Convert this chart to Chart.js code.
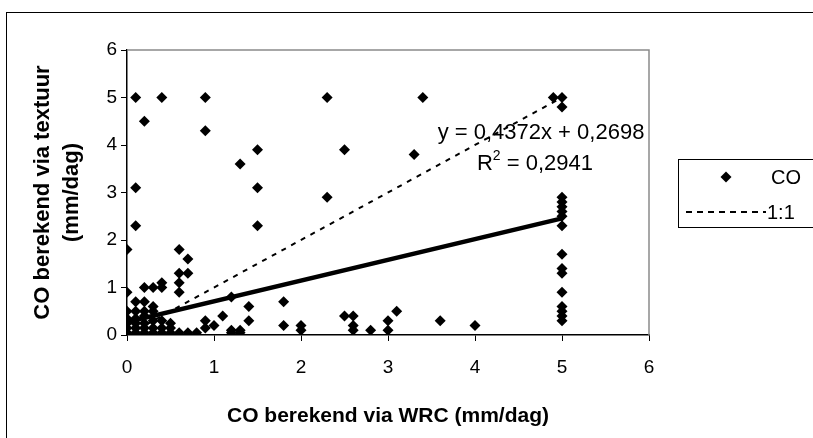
<!DOCTYPE html>
<html>
<head>
<meta charset="utf-8">
<script src="https://cdn.jsdelivr.net/npm/chart.js@4.4.1/dist/chart.umd.min.js"></script>
<style>
    html, body { margin: 0; padding: 0; background: #fff; overflow: hidden; }
    #kader {
        position: absolute; left: 6px; top: 12px; width: 900px; height: 600px;
        border-left: 1px solid #000; border-top: 1px solid #000;
    }
    #grafico { position: absolute; left: 0; top: 0; }
</style>
</head>
<body>
<div id="kader"></div>
<canvas id="grafico" width="813" height="438"></canvas>
<script>
// CO berekend via WRC (x) tegen CO berekend via textuur (y), mm/dag
const coX = [
    0, 0, 0, 0, 0, 0, 0,
    0.1, 0.1, 0.1, 0.1, 0.1, 0.1, 0.1, 0.1, 0.1,
    0.2, 0.2, 0.2, 0.2, 0.2, 0.2, 0.2, 0.2,
    0.3, 0.3, 0.3, 0.3, 0.3, 0.3,
    0.4, 0.4, 0.4, 0.4, 0.4, 0.4,
    0.5, 0.5, 0.5,
    0.6, 0.6, 0.6, 0.6, 0.6,
    0.7, 0.7, 0.7,
    0.8,
    0.9, 0.9, 0.9, 0.9,
    1.0, 1.1,
    1.2, 1.2, 1.2,
    1.3, 1.3, 1.3,
    1.4, 1.4,
    1.5, 1.5, 1.5,
    1.8, 1.8,
    2.0, 2.0,
    2.3, 2.3,
    2.5, 2.5,
    2.6, 2.6, 2.6,
    2.8,
    3.0, 3.0,
    3.1, 3.3, 3.4, 3.6, 4.0, 4.9,
    5, 5, 5, 5, 5, 5, 5, 5, 5, 5, 5, 5, 5, 5, 5, 5
];
const coY = [
    0.05, 0.15, 0.25, 0.35, 0.5, 0.9, 1.8,
    0.05, 0.15, 0.25, 0.35, 0.5, 0.7, 2.3, 3.1, 5.0,
    0.05, 0.15, 0.25, 0.4, 0.5, 0.7, 1.0, 4.5,
    0.05, 0.15, 0.3, 0.5, 0.6, 1.0,
    0.05, 0.15, 0.3, 1.0, 1.1, 5.0,
    0.05, 0.15, 0.25,
    0.05, 0.9, 1.1, 1.3, 1.8,
    0.05, 1.3, 1.6,
    0.05,
    0.15, 0.3, 4.3, 5.0,
    0.2, 0.4,
    0.05, 0.1, 0.8,
    0.05, 0.1, 3.6,
    0.3, 0.6,
    2.3, 3.1, 3.9,
    0.2, 0.7,
    0.1, 0.2,
    2.9, 5.0,
    0.4, 3.9,
    0.1, 0.2, 0.4,
    0.1,
    0.1, 0.3,
    0.5, 3.8, 5.0, 0.3, 0.2, 5.0,
    0.3, 0.4, 0.5, 0.6, 0.9, 1.3, 1.4, 1.7, 2.3, 2.5, 2.6, 2.7, 2.8, 2.9, 4.8, 5.0
];

// lineaire trendlijn y = 0,4372x + 0,2698
const trendX = [0, 5];
const trendY = [0.2698, 2.4558];

// 1:1 lijn
const lijnX = [0, 5];
const lijnY = [0, 5];

const tickWaarden = [0, 1, 2, 3, 4, 5, 6];
const legendaNamen = ['CO', '1:1'];

const FONT = '"Liberation Sans", Arial, sans-serif';

function punten(xs, ys) {
    return xs.map((x, i) => ({ x: x, y: ys[i] }));
}

/* ===== plot-kader (grijze rand boven en rechts) ===== */
const kaderPlugin = {
    id: 'kader',
    beforeDatasetsDraw(chart) {
        const { ctx, chartArea: a } = chart;
        ctx.save();
        ctx.strokeStyle = '#8a8a8a';
        ctx.lineWidth = 1.5;
        ctx.beginPath();
        ctx.moveTo(a.left, a.top);
        ctx.lineTo(a.right, a.top);
        ctx.lineTo(a.right, a.bottom);
        ctx.stroke();
        ctx.restore();
    }
};

/* ===== vergelijking van de trendlijn ===== */
const vergelijkingPlugin = {
    id: 'vergelijking',
    afterDraw(chart) {
        const ctx = chart.ctx;
        ctx.save();
        ctx.fillStyle = '#000';
        ctx.textBaseline = 'middle';
        ctx.font = '22px ' + FONT;
        ctx.textAlign = 'center';
        ctx.fillText('y = 0,4372x + 0,2698', 541, 133);

        // R² regel met superscript
        const cx = 535;
        const deel1 = 'R', deel3 = ' = 0,2941';
        const w1 = ctx.measureText(deel1).width;
        const w3 = ctx.measureText(deel3).width;
        ctx.font = '14px ' + FONT;
        const w2 = ctx.measureText('2').width;
        const start = cx - (w1 + w2 + w3) / 2;
        ctx.textAlign = 'left';
        ctx.font = '22px ' + FONT;
        ctx.fillText(deel1, start, 164);
        ctx.fillText(deel3, start + w1 + w2, 164);
        ctx.font = '14px ' + FONT;
        ctx.fillText('2', start + w1, 156);
        ctx.restore();
    }
};

/* ===== legenda ===== */
const legendaPlugin = {
    id: 'legenda',
    afterDraw(chart) {
        const ctx = chart.ctx;
        ctx.save();
        ctx.strokeStyle = '#000';
        ctx.lineWidth = 1;
        ctx.strokeRect(678.5, 159.5, 200, 68);

        // ruit
        const mx = 726, my = 177, r = 5.5;
        ctx.fillStyle = '#000';
        ctx.beginPath();
        ctx.moveTo(mx, my - r);
        ctx.lineTo(mx + r, my);
        ctx.lineTo(mx, my + r);
        ctx.lineTo(mx - r, my);
        ctx.closePath();
        ctx.fill();

        // stippellijn
        ctx.lineWidth = 2;
        ctx.setLineDash([6, 5]);
        ctx.beginPath();
        ctx.moveTo(686, 212);
        ctx.lineTo(766, 212);
        ctx.stroke();
        ctx.setLineDash([]);

        ctx.font = '20px ' + FONT;
        ctx.textBaseline = 'middle';
        ctx.textAlign = 'left';
        ctx.fillText(legendaNamen[0], 771, 178);
        ctx.fillText(legendaNamen[1], 767, 213);
        ctx.restore();
    }
};

new Chart(document.getElementById('grafico'), {
    type: 'scatter',
    data: {
        datasets: [
            {
                label: legendaNamen[0],
                data: punten(coX, coY),
                pointStyle: 'rectRot',
                pointRadius: 5.5,
                pointHoverRadius: 5.5,
                backgroundColor: '#000',
                borderColor: '#000',
                borderWidth: 0
            },
            {
                label: 'Lineair (CO)',
                data: punten(trendX, trendY),
                showLine: true,
                pointRadius: 0,
                borderColor: '#000',
                borderWidth: 4.5
            },
            {
                label: legendaNamen[1],
                data: punten(lijnX, lijnY),
                showLine: true,
                pointRadius: 0,
                borderColor: '#000',
                borderWidth: 2,
                borderDash: [5, 6]
            }
        ]
    },
    options: {
        responsive: false,
        animation: false,
        layout: { padding: { top: 50, right: 164, left: 0, bottom: 0 } },
        plugins: {
            legend: { display: false },
            tooltip: { enabled: false }
        },
        scales: {
            x: {
                type: 'linear',
                min: 0,
                max: 6,
                afterBuildTicks: s => { s.ticks = tickWaarden.map(v => ({ value: v })); },
                afterFit: s => { s.height = 103; },
                ticks: { color: '#000', font: { size: 19, family: FONT }, padding: 15, maxRotation: 0 },
                grid: { drawOnChartArea: false, drawTicks: true, tickLength: 6, color: '#000' },
                border: { color: '#000', width: 1.5 },
                title: {
                    display: true,
                    text: 'CO berekend via WRC (mm/dag)',
                    color: '#000',
                    font: { size: 21, weight: 'bold', family: FONT, lineHeight: 1.2 },
                    padding: { top: 0, bottom: 9 }
                }
            },
            y: {
                type: 'linear',
                min: 0,
                max: 6,
                afterBuildTicks: s => { s.ticks = tickWaarden.map(v => ({ value: v })); },
                afterFit: s => { s.width = 127; },
                ticks: { color: '#000', font: { size: 19, family: FONT }, padding: 4 },
                grid: { drawOnChartArea: false, drawTicks: true, tickLength: 6, color: '#000' },
                border: { color: '#000', width: 1.5 },
                title: {
                    display: true,
                    text: ['CO berekend via textuur', '(mm/dag)'],
                    color: '#000',
                    font: { size: 22, weight: 'bold', family: FONT, lineHeight: 1.3 },
                    padding: { top: 29, bottom: 0 }
                }
            }
        }
    },
    plugins: [kaderPlugin, vergelijkingPlugin, legendaPlugin]
});
</script>
</body>
</html>
